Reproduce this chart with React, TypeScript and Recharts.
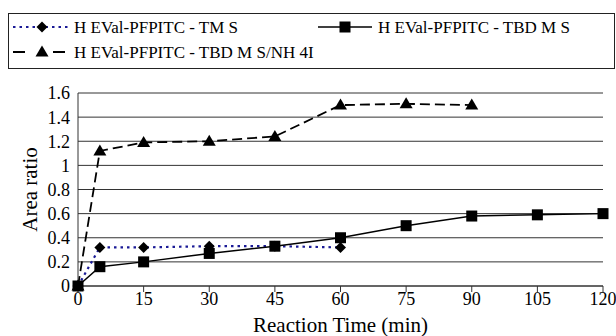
import React from 'react';
import { LineChart, Line, XAxis, YAxis, CartesianGrid } from 'recharts';

const times = [0, 5, 15, 30, 45, 60, 75, 90, 105, 120];
const tmsValues = [0, 0.32, 0.32, 0.33, 0.33, 0.32, null, null, null, null];
const tbdmsValues = [0, 0.16, 0.2, 0.27, 0.33, 0.4, 0.5, 0.58, 0.59, 0.6];
const nh4iValues = [0, 1.12, 1.19, 1.2, 1.24, 1.5, 1.51, 1.5, null, null];
const xTicks = [0, 15, 30, 45, 60, 75, 90, 105, 120];
const yTicks = [0, 0.2, 0.4, 0.6, 0.8, 1, 1.2, 1.4, 1.6];
const seriesNames = ['H EVal-PFPITC - TM S', 'H EVal-PFPITC - TBD M S', 'H EVal-PFPITC - TBD M S/NH 4I'];

const data = times.map((t, i) => ({
  t,
  tms: tmsValues[i],
  tbdms: tbdmsValues[i],
  nh4i: nh4iValues[i],
}));

const FONT = 'Liberation Serif';
const textStyle = { fontFamily: FONT };

const Diamond = (cx: number, cy: number, key?: any) => (
  <path key={key} d={`M${cx},${cy - 5.5}L${cx + 5.5},${cy}L${cx},${cy + 5.5}L${cx - 5.5},${cy}Z`} fill="#000" />
);
const Square = (cx: number, cy: number, key?: any) => (
  <rect key={key} x={cx - 5.5} y={cy - 5.5} width={11} height={11} fill="#000" />
);
const Triangle = (cx: number, cy: number, key?: any) => (
  <path key={key} d={`M${cx},${cy - 6.5}L${cx + 6.5},${cy + 4.5}L${cx - 6.5},${cy + 4.5}Z`} fill="#000" />
);

const mkDot = (fn: any) => (p: any) => {
  if (p.cx == null || p.cy == null || p.value == null) return <g key={p.key} />;
  return fn(p.cx, p.cy, p.key);
};

const series = [
  { key: 'tms', name: seriesNames[0], stroke: '#1a1a96', dash: '2.5 4', width: 2.2, shape: Diamond },
  { key: 'tbdms', name: seriesNames[1], stroke: '#000', dash: undefined, width: 1.5, shape: Square },
  { key: 'nh4i', name: seriesNames[2], stroke: '#000', dash: '10 5', width: 1.8, shape: Triangle },
];

const legendPos = [
  { x1: 13, x2: 71, mx: 42, y: 27, tx: 74, dash: '2.5 4' },
  { x1: 318, x2: 372, mx: 345, y: 27, tx: 378, dash: undefined },
  { x1: 13, x2: 65, mx: 42, y: 52, tx: 74, dash: '12 28 12' },
];

function LegendBox() {
  return (
    <svg width={616} height={80} style={{ position: 'absolute', left: 0, top: 0 }}>
      <rect x={8.5} y={13.5} width={606} height={55} fill="none" stroke="#222" strokeWidth={1} />
      {series.map((s, i) => {
        const p = legendPos[i];
        return (
          <g key={s.key}>
            <line x1={p.x1} x2={p.x2} y1={p.y} y2={p.y} stroke={s.stroke} strokeWidth={s.width} strokeDasharray={p.dash} />
            {s.shape(p.mx, p.y)}
            <text x={p.tx} y={p.y + 5.5} fontFamily={FONT} style={textStyle} fontSize={17} fill="#000">{s.name}</text>
          </g>
        );
      })}
    </svg>
  );
}

export default function App() {
  return (
    <div style={{ position: 'absolute', left: 0, top: 0, width: 616, height: 336, background: '#fff', fontFamily: FONT }}>
      <LineChart width={616} height={336} data={data} margin={{ top: 93, right: 13, bottom: 20, left: 0 }} style={textStyle}>
        <CartesianGrid vertical={false} stroke="#333" strokeWidth={1} />
        <XAxis
          dataKey="t"
          type="number"
          domain={[0, 120]}
          ticks={xTicks}
          interval={0}
          height={30}
          stroke="#333"
          tickSize={6}
          tickMargin={0}
          tick={{ fill: '#000', fontSize: 18, fontFamily: FONT, style: textStyle }}
          label={{ value: 'Reaction Time (min)', position: 'bottom', offset: 1, fill: '#000', fontSize: 21, fontFamily: FONT, style: textStyle }}
        />
        <YAxis
          type="number"
          domain={[0, 1.6]}
          ticks={yTicks}
          interval={0}
          width={78}
          stroke="#333"
          tickLine={false}
          tickSize={6}
          tick={{ fill: '#000', fontSize: 18, fontFamily: FONT, style: textStyle }}
          label={{ value: 'Area ratio', angle: -90, position: 'insideLeft', offset: 30, fill: '#000', fontSize: 21, fontFamily: FONT, style: { ...textStyle, textAnchor: 'middle' } }}
        />
        {series.map((s) => (
          <Line
            key={s.key}
            dataKey={s.key}
            name={s.name}
            type="linear"
            stroke={s.stroke}
            strokeWidth={s.width}
            strokeDasharray={s.dash}
            dot={mkDot(s.shape)}
            activeDot={false}
            connectNulls={false}
            isAnimationActive={false}
          />
        ))}
      </LineChart>
      <LegendBox />
    </div>
  );
}
